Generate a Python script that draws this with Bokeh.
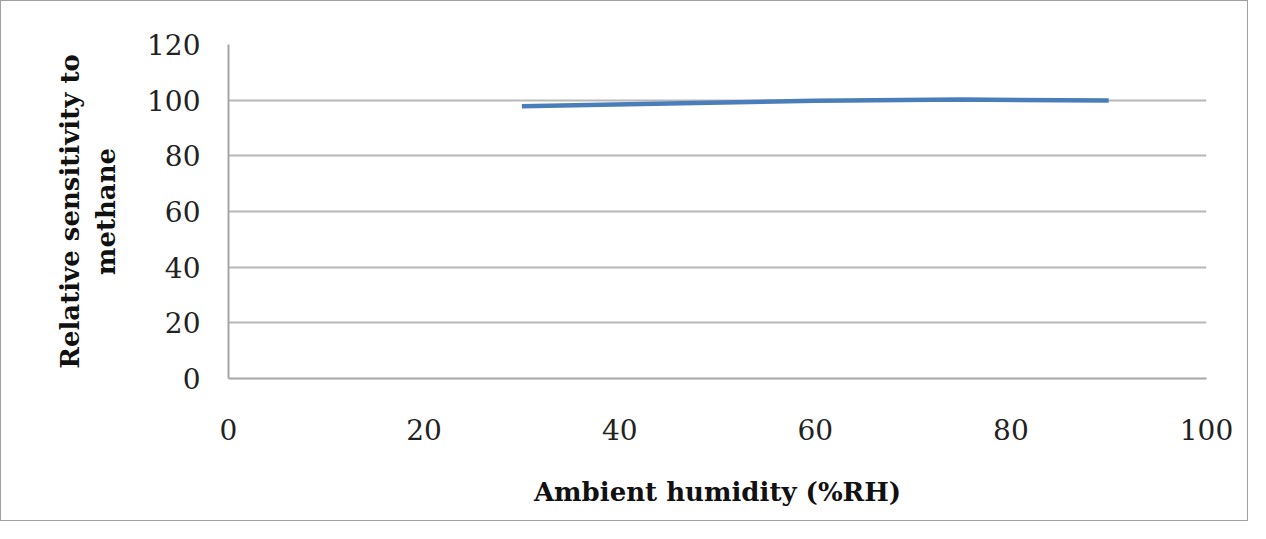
import numpy as np
from bokeh.plotting import figure
from bokeh.models import Range1d, FixedTicker
from bokeh.embed import file_html
from bokeh.resources import INLINE

humidity = [30, 45, 60, 75, 90]
sensitivity = [97.8, 98.8, 99.8, 100.2, 99.9]
x_ticks = [0, 20, 40, 60, 80, 100]
y_ticks = [0, 20, 40, 60, 80, 100, 120]

W, H = 1248, 521
p = figure(width=W, height=H, output_backend="svg", toolbar_location=None,
           x_range=Range1d(0, 100), y_range=Range1d(0, 120))
p.min_border_left = 227
p.min_border_right = 43
p.min_border_top = 43
p.min_border_bottom = 144
p.styles = {"border": "1px solid #a0a0a0"}
p.background_fill_color = "white"
p.border_fill_color = "white"
p.outline_line_color = None

p.line(humidity, sensitivity, line_color="#4a7ebb", line_width=4.5)

font = "DejaVu Serif"
p.xaxis.ticker = FixedTicker(ticks=x_ticks)
p.yaxis.ticker = FixedTicker(ticks=y_ticks)
for ax in (p.xaxis, p.yaxis):
    ax.major_tick_line_color = None
    ax.minor_tick_line_color = None
    ax.axis_line_color = "#a6a6a6"
    ax.axis_line_width = 2
    ax.major_label_text_font = font
    ax.major_label_text_font_size = "28px"
    ax.major_label_text_color = "#222222"
    ax.axis_label_text_font = font
    ax.axis_label_text_font_style = "bold"
    ax.axis_label_text_font_size = "26px"
    ax.axis_label_text_color = "#111111"
p.xaxis.major_label_standoff = 34
p.yaxis.major_label_standoff = 22

p.xaxis.axis_label = "Ambient humidity (%RH)"
p.xaxis.axis_label_standoff = 34
p.yaxis.axis_label = "Relative sensitivity to\nmethane"
p.yaxis.axis_label_standoff = 23

p.xgrid.grid_line_color = None
p.ygrid.grid_line_color = "#b8b8b8"
p.ygrid.grid_line_width = 2

open("out.html", "w").write(file_html(p, INLINE))
